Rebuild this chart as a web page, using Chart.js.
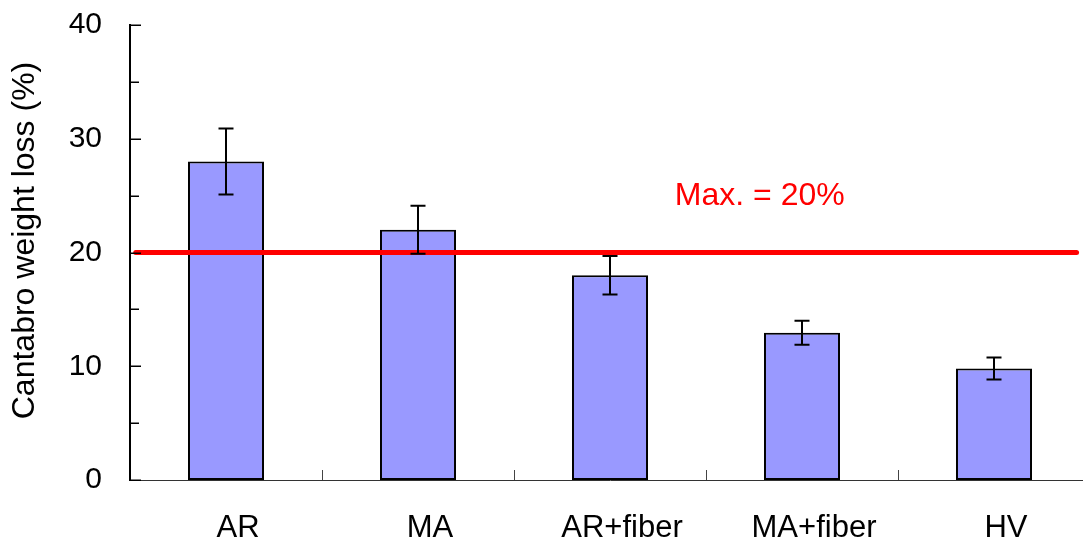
<!DOCTYPE html>
<html>
<head>
<meta charset="utf-8">
<script src="https://cdn.jsdelivr.net/npm/chart.js@4.4.0/dist/chart.umd.min.js"></script>
<style>
html,body{margin:0;padding:0;overflow:hidden;background:#fff;width:1083px;height:543px}
#wrap{position:relative;width:1100px;height:543px}
</style>
</head>
<body>
<div id="wrap"><canvas id="c"></canvas></div>
<script>
// ---- data ----
const categories = ['AR', 'MA', 'AR+fiber', 'MA+fiber', 'HV'];
const lossValues = [28.0, 22.0, 18.0, 12.95, 9.8];
const errorValues = [2.9, 2.1, 1.7, 1.05, 0.97];
const yMin = 0;
const yMax = 40;
const yStep = 5;
const yLabelStep = 10;
const maxLimit = 20;
const maxLineRange = [-0.47, 4.43];
const maxLabel = 'Max. = 20%';
const maxLabelPos = [2.78, 24.97];
const yTitle = 'Cantabro weight loss (%)';

const FONT = 'Arial, "Liberation Sans", Helvetica, sans-serif';

const decorPlugin = {
  id: 'decor',
  afterDatasetsDraw(chart) {
    const ctx = chart.ctx;
    const x = chart.scales.x, y = chart.scales.y, x2 = chart.scales.x2;
    const area = chart.chartArea;
    ctx.save();
    // error bars
    ctx.strokeStyle = '#000';
    ctx.lineWidth = 2;
    lossValues.forEach((v, i) => {
      const cx = x.getPixelForValue(i);
      const top = y.getPixelForValue(v + errorValues[i]);
      const bot = y.getPixelForValue(v - errorValues[i]);
      ctx.beginPath();
      ctx.moveTo(cx, top); ctx.lineTo(cx, bot);
      ctx.moveTo(cx - 7.5, top); ctx.lineTo(cx + 7.5, top);
      ctx.moveTo(cx - 7.5, bot); ctx.lineTo(cx + 7.5, bot);
      ctx.stroke();
    });
    // inward y ticks
    ctx.lineWidth = 1.5;
    y.ticks.forEach(t => {
      const py = Math.round(y.getPixelForValue(t.value)) + 0.25;
      const len = (t.value % yLabelStep === 0) ? 11 : 9;
      ctx.beginPath();
      ctx.moveTo(area.left, py); ctx.lineTo(area.left + len, py);
      ctx.stroke();
    });
    // category boundary ticks
    ctx.strokeStyle = '#444';
    ctx.lineWidth = 1;
    for (let i = 1; i < categories.length; i++) {
      const px = Math.round((x.getPixelForValue(i - 1) + x.getPixelForValue(i)) / 2) + 0.5;
      ctx.beginPath();
      ctx.moveTo(px, area.bottom); ctx.lineTo(px, area.bottom - 10);
      ctx.stroke();
    }
    // max label
    ctx.fillStyle = '#ff0000';
    ctx.font = '32px ' + FONT;
    ctx.textAlign = 'center';
    ctx.textBaseline = 'middle';
    ctx.fillText(maxLabel, x2.getPixelForValue(maxLabelPos[0]), y.getPixelForValue(maxLabelPos[1]));
    // y title
    ctx.fillStyle = '#000';
    ctx.font = '32px ' + FONT;
    ctx.translate(25, (area.top + area.bottom) / 2 - 12);
    ctx.rotate(-Math.PI / 2);
    ctx.fillText(yTitle, 0, 0);
    ctx.restore();
  }
};

new Chart(document.getElementById('c'), {
  data: {
    labels: categories,
    datasets: [
      {
        type: 'bar',
        data: lossValues,
        backgroundColor: '#9999ff',
        borderColor: '#000',
        borderWidth: 2,
        borderSkipped: false,
        grouped: false,
        barPercentage: 0.396,
        categoryPercentage: 1,
        xAxisID: 'x',
        yAxisID: 'y',
        order: 2
      },
      {
        type: 'line',
        data: maxLineRange.map(v => ({ x: v, y: maxLimit })),
        borderColor: '#ff0000',
        borderWidth: 5,
        borderCapStyle: 'round',
        pointRadius: 0,
        fill: false,
        xAxisID: 'x2',
        yAxisID: 'y',
        order: 1
      }
    ]
  },
  options: {
    responsive: true,
    maintainAspectRatio: false,
    animation: false,
    events: [],
    layout: { padding: { top: 25, right: 10, left: 0, bottom: 0 } },
    plugins: { legend: { display: false }, tooltip: { enabled: false }, title: { display: false } },
    scales: {
      x: {
        type: 'category',
        offset: true,
        position: 'bottom',
        grid: { display: false, drawTicks: false, tickLength: 0 },
        border: { display: true, color: '#333', width: 1 },
        ticks: { font: { size: 31, family: FONT }, color: '#000', padding: 30, labelOffset: 12, maxRotation: 0, autoSkip: false },
        afterFit: s => { s.height = 63; s.paddingLeft = 0; s.paddingRight = 0; }
      },
      x2: { type: 'linear', min: -0.5, max: 4.5, display: false },
      y: {
        type: 'linear',
        min: yMin,
        max: yMax,
        grid: { display: false, drawTicks: false, tickLength: 0 },
        border: { display: true, color: '#000', width: 2 },
        ticks: {
          stepSize: yStep,
          autoSkip: false,
          font: { size: 30, family: FONT },
          color: '#000',
          padding: 28,
          callback: v => (v % yLabelStep === 0 ? String(v) : '')
        },
        afterFit: s => { s.width = 130; s.paddingTop = 0; s.paddingBottom = 0; }
      }
    }
  },
  plugins: [decorPlugin]
});
</script>
</body>
</html>
